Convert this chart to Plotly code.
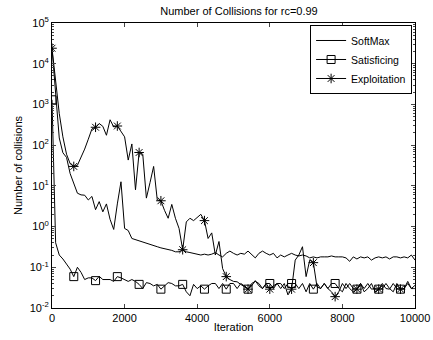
import plotly.graph_objects as go

iterations = list(range(0, 10001, 100))

softmax = [24000, 1500, 150, 65, 50, 20, 11, 6.6, 6, 5.9,
           4.5, 5.5, 2.6, 4.1, 2.3, 3.6, 1.5, 0.85, 3.6, 12.6,
           0.9, 0.8, 0.51, 0.48, 0.45, 0.42, 0.4, 0.37, 0.35, 0.32,
           0.3, 0.29, 0.28, 0.26, 0.24, 0.24, 0.27, 0.24, 0.23, 0.22,
           0.21, 0.2, 0.21, 0.2, 0.21, 0.23, 0.2, 0.18, 0.22, 0.25,
           0.22, 0.2, 0.22, 0.21, 0.25, 0.2, 0.17, 0.22, 0.25, 0.22,
           0.2, 0.22, 0.17, 0.2, 0.18, 0.2, 0.22, 0.2, 0.19, 0.2,
           0.19, 0.17, 0.18, 0.17, 0.18, 0.18, 0.18, 0.19, 0.18, 0.18,
           0.18, 0.17, 0.14, 0.18, 0.16, 0.18, 0.17, 0.18, 0.15, 0.17,
           0.18, 0.17, 0.18, 0.16, 0.18, 0.18, 0.17, 0.18, 0.17, 0.2,
           0.15]

satisficing = [1300, 0.4, 0.2, 0.16, 0.12, 0.09, 0.059, 0.1, 0.075, 0.05,
               0.055, 0.055, 0.047, 0.06, 0.05, 0.05, 0.05, 0.045, 0.059, 0.055,
               0.05, 0.045, 0.05, 0.045, 0.038, 0.03, 0.042, 0.04, 0.035, 0.038,
               0.029, 0.035, 0.042, 0.04, 0.035, 0.035, 0.038, 0.025, 0.02, 0.038,
               0.03, 0.035, 0.029, 0.035, 0.04, 0.04, 0.03, 0.04, 0.029, 0.04,
               0.04, 0.03, 0.04, 0.035, 0.029, 0.04, 0.045, 0.04, 0.03, 0.04,
               0.04, 0.03, 0.04, 0.04, 0.03, 0.04, 0.04, 0.04, 0.03, 0.04,
               0.025, 0.04, 0.029, 0.04, 0.03, 0.04, 0.03, 0.04, 0.04, 0.03,
               0.025, 0.04, 0.03, 0.025, 0.029, 0.04, 0.025, 0.03, 0.04, 0.025,
               0.029, 0.03, 0.04, 0.03, 0.025, 0.04, 0.029, 0.03, 0.045, 0.03,
               0.036]

exploitation = [24000, 3500, 600, 160, 60, 35, 30, 32, 50, 80,
                140, 250, 275, 340, 290, 175, 420, 280, 295, 220,
                160, 43, 107, 8, 66, 60, 5, 12, 30, 4.5,
                4.3, 2.5, 1.6, 3.5, 1.6, 0.9, 0.27, 1.3, 1.6, 1.4,
                1.7, 2.0, 1.4, 0.51, 0.7, 0.2, 0.43, 0.093, 0.059, 0.05,
                0.045, 0.044, 0.038, 0.033, 0.029, 0.035, 0.047, 0.035, 0.03, 0.04,
                0.029, 0.035, 0.04, 0.03, 0.04, 0.021, 0.029, 0.15, 0.2, 0.32,
                0.059, 0.15, 0.13, 0.033, 0.03, 0.04, 0.03, 0.025, 0.019, 0.025,
                0.04, 0.03, 0.04, 0.03, 0.029, 0.04, 0.03, 0.04, 0.029, 0.03,
                0.029, 0.04, 0.03, 0.029, 0.04, 0.03, 0.029, 0.03, 0.04, 0.03,
                0.03]

series_names = ["SoftMax", "Satisficing", "Exploitation"]
series_symbols = [None, "square-open", "asterisk-open"]
marker_step = 6

y_tickvals = [1e-2, 1e-1, 1e0, 1e1, 1e2, 1e3, 1e4, 1e5]
y_ticktext = ["10<sup>-2</sup>", "10<sup>-1</sup>", "10<sup>0</sup>", "10<sup>1</sup>",
              "10<sup>2</sup>", "10<sup>3</sup>", "10<sup>4</sup>", "10<sup>5</sup>"]
x_tickvals = [0, 2000, 4000, 6000, 8000, 10000]
x_ticktext = ["0", "2000", "4000", "6000", "8000", "10000"]

fig = go.Figure()
for name, vals, sym in zip(series_names, [softmax, satisficing, exploitation], series_symbols):
    fig.add_trace(go.Scatter(x=iterations, y=vals, mode="lines",
                             line=dict(color="black", width=1), showlegend=False,
                             hoverinfo="skip"))
    if sym:
        mx = iterations[::marker_step]
        my = vals[::marker_step]
        fig.add_trace(go.Scatter(x=mx, y=my, mode="markers", showlegend=False,
                                 marker=dict(symbol=sym, size=8, color="black",
                                             line=dict(color="black", width=1))))
    fig.add_trace(go.Scatter(x=[None], y=[None], name=name,
                             mode="lines+markers" if sym else "lines",
                             line=dict(color="black", width=1),
                             marker=dict(symbol=sym or "circle", size=8, color="black",
                                         line=dict(color="black", width=1))))

minor_vals = [m * 10 ** e for e in range(-2, 5) for m in range(2, 10)]

fig.update_layout(
    width=433, height=340,
    margin=dict(l=52, r=18, t=23, b=32, autoexpand=False),
    paper_bgcolor="white", plot_bgcolor="white",
    font=dict(family="Liberation Sans, Arial, sans-serif", size=11, color="black"),
    title=dict(text="Number of Collisions for rc=0.99", x=239 / 433, xref="container",
               xanchor="center", y=1 - 11 / 340, yref="container", yanchor="middle",
               font=dict(size=11)),
    showlegend=True,
    legend=dict(x=0.992, y=0.993, xanchor="right", yanchor="top",
                bordercolor="black", borderwidth=1, bgcolor="white",
                font=dict(size=10.5), tracegroupgap=0, itemwidth=30),
    xaxis=dict(range=[0, 10000], tickvals=x_tickvals, ticktext=x_ticktext,
               ticks="inside", ticklen=4, automargin=False,
               showline=True, linecolor="black", linewidth=1, mirror="ticks",
               showgrid=False, zeroline=False,
               title=dict(text="Iteration", standoff=0, font=dict(size=11))),
    yaxis=dict(type="log", range=[-2, 5], tickvals=y_tickvals, ticktext=y_ticktext,
               ticks="inside", ticklen=4, showline=True, linecolor="black", linewidth=1,
               mirror="ticks", showgrid=False, zeroline=False, automargin=False,
               minor=dict(tickvals=minor_vals, ticks="inside", ticklen=2, showgrid=False),
               title=dict(text="Number of collisions", standoff=4, font=dict(size=11))),
)

fig.write_html("out.html")
